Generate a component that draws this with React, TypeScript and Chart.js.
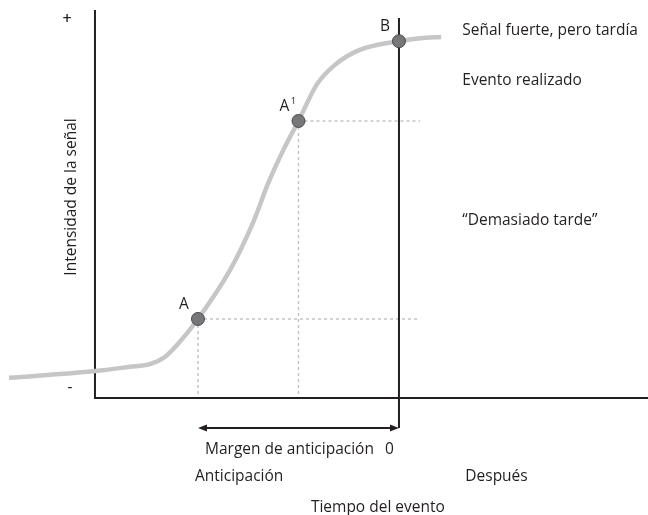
import React, { useEffect, useRef } from "react";
import { Chart, registerables } from "chart.js";

Chart.register(...registerables);

// Curve: time relative to the event (0 = event) vs. signal intensity (0..100)
const timeX = [-3.88, -3.02, -2.68, -2.48, -2.33, -2.2, -2.0, -1.68, -1.45, -1.3, -1.15, -1.0, -0.82, -0.64, -0.39, 0, 0.21, 0.42];
const intensity = [5.3, 7.1, 8.2, 8.9, 10.8, 14.2, 20.8, 33.7, 46.3, 56.6, 65.3, 72.9, 82.4, 87.6, 91.6, 93.9, 94.7, 95.0];

// Marked points
const markerLabels = ["A", "A", "B"];
const markerSup = ["", "1", ""];
const markerX = [-2.0, -1.0, 0];
const markerY = [20.8, 72.9, 93.9];

// Axis texts
const yTitle = "Intensidad de la señal";
const xTitle = "Tiempo del evento";
const yTickLabels = ["+", "-"];
const marginLabel = "Margen de anticipación";
const zeroLabel = "0";
const beforeLabel = "Anticipación";
const afterLabel = "Después";
const sideLabels = ["Señal fuerte, pero tardía", "Evento realizado", "“Demasiado tarde”"];
const sideLabelY = [97.6, 84.2, 47.4];

const FONT = '"Open Sans", "Noto Sans", sans-serif';
const FS = 15.5;
const INK = "#231f20";
const DY = 3; // visual centring offset for text

export default function App() {
  const ref = useRef<HTMLCanvasElement | null>(null);

  useEffect(() => {
    if (!ref.current) return;

    const deco = {
      id: "deco",
      beforeDatasetsDraw(chart: any) {
        const ctx = chart.ctx;
        const xs = chart.scales.x;
        const ys = chart.scales.y;
        const X = (v: number) => xs.getPixelForValue(v);
        const Y = (v: number) => ys.getPixelForValue(v);
        ctx.save();
        // dotted guides
        ctx.strokeStyle = "#c4c4c6";
        ctx.lineWidth = 1.5;
        ctx.setLineDash([3, 3]);
        for (let i = 0; i < 2; i++) {
          ctx.beginPath();
          ctx.moveTo(X(markerX[i]), Y(markerY[i]));
          ctx.lineTo(X(0.21), Y(markerY[i]));
          ctx.moveTo(X(markerX[i]), Y(markerY[i]));
          ctx.lineTo(X(markerX[i]), Y(0));
          ctx.stroke();
        }
        ctx.setLineDash([]);
        // axes
        ctx.strokeStyle = INK;
        ctx.lineWidth = 2;
        ctx.beginPath();
        ctx.moveTo(X(-3.025), Y(102.1));
        ctx.lineTo(X(-3.025), Y(0));
        ctx.lineTo(xs.right, Y(0));
        ctx.stroke();
        // event line
        ctx.beginPath();
        ctx.moveTo(X(0), Y(100));
        ctx.lineTo(X(0), Y(-7.9));
        ctx.stroke();
        // margin arrow
        const ay = Y(-7.9);
        const ax0 = X(-2.0);
        const ax1 = X(0);
        ctx.beginPath();
        ctx.moveTo(ax0 + 6, ay);
        ctx.lineTo(ax1 - 6, ay);
        ctx.stroke();
        ctx.fillStyle = INK;
        ctx.beginPath();
        ctx.moveTo(ax0, ay);
        ctx.lineTo(ax0 + 9, ay - 3.5);
        ctx.lineTo(ax0 + 9, ay + 3.5);
        ctx.closePath();
        ctx.fill();
        ctx.beginPath();
        ctx.moveTo(ax1, ay);
        ctx.lineTo(ax1 - 9, ay - 3.5);
        ctx.lineTo(ax1 - 9, ay + 3.5);
        ctx.closePath();
        ctx.fill();
        ctx.restore();
      },
      afterDatasetsDraw(chart: any) {
        const ctx = chart.ctx;
        const xs = chart.scales.x;
        const ys = chart.scales.y;
        const X = (v: number) => xs.getPixelForValue(v);
        const Y = (v: number) => ys.getPixelForValue(v) + DY;
        ctx.save();
        ctx.fillStyle = INK;
        ctx.textBaseline = "middle";
        ctx.font = `${FS}px ${FONT}`;
        // point labels
        ctx.textAlign = "center";
        for (let i = 0; i < markerLabels.length; i++) {
          const px = X(markerX[i]) - 14;
          const py = Y(markerY[i]) - 17.5;
          ctx.font = `${FS}px ${FONT}`;
          ctx.fillText(markerLabels[i], px, py);
          if (markerSup[i]) {
            ctx.font = `9.5px ${FONT}`;
            ctx.fillText(markerSup[i], px + 9, py - 5);
          }
        }
        // y tick labels
        ctx.font = `600 16px ${FONT}`;
        ctx.fillText(yTickLabels[0], 67, Y(100.1) - 1);
        ctx.font = `${FS}px ${FONT}`;
        ctx.fillText(yTickLabels[1], 70, Y(3.4) - 1);
        // y title
        ctx.save();
        ctx.translate(69, ys.getPixelForValue(52.9));
        ctx.rotate(-Math.PI / 2);
        ctx.fillText(yTitle, 0, DY);
        ctx.restore();
        // bottom texts
        ctx.textAlign = "left";
        ctx.fillText(marginLabel, X(-1.93), Y(-12.9));
        ctx.fillText(zeroLabel, X(-0.14), Y(-12.9));
        ctx.fillText(beforeLabel, X(-2.03), Y(-20));
        ctx.fillText(afterLabel, X(0.66), Y(-20));
        ctx.textAlign = "center";
        ctx.fillText(xTitle, X(-0.21), Y(-28.15));
        // side texts
        ctx.textAlign = "left";
        for (let i = 0; i < sideLabels.length; i++) {
          ctx.fillText(sideLabels[i], X(0.63), Y(sideLabelY[i]));
        }
        ctx.restore();
      },
    };

    const chart = new Chart(ref.current, {
      type: "line",
      data: {
        datasets: [
          {
            data: timeX.map((x, i) => ({ x, y: intensity[i] })),
            borderColor: "#c6c6c8",
            borderWidth: 4.5,
            pointRadius: 0,
            cubicInterpolationMode: "monotone",
            fill: false,
            clip: false,
            order: 2,
          },
          {
            data: markerX.map((x, i) => ({ x, y: markerY[i] })),
            showLine: false,
            pointRadius: 6.5,
            pointBackgroundColor: "#77777a",
            pointBorderColor: "#4a4a4c",
            pointBorderWidth: 1,
            clip: false,
            order: 1,
          },
        ],
      },
      options: {
        animation: false,
        responsive: false,
        layout: { padding: 0, autoPadding: false },
        plugins: { legend: { display: false }, tooltip: { enabled: false } },
        events: [],
        scales: {
          x: { type: "linear", display: false, min: -3.97, max: 2.478 },
          y: { type: "linear", display: false, min: -30.79, max: 104.74 },
        },
      },
      plugins: [deco],
    } as any);
    return () => chart.destroy();
  }, []);

  return (
    <div style={{ position: "absolute", left: 0, top: 0, width: 648, height: 515, background: "#fff" }}>
      <canvas ref={ref} width={648} height={515} style={{ display: "block" }} />
    </div>
  );
}
